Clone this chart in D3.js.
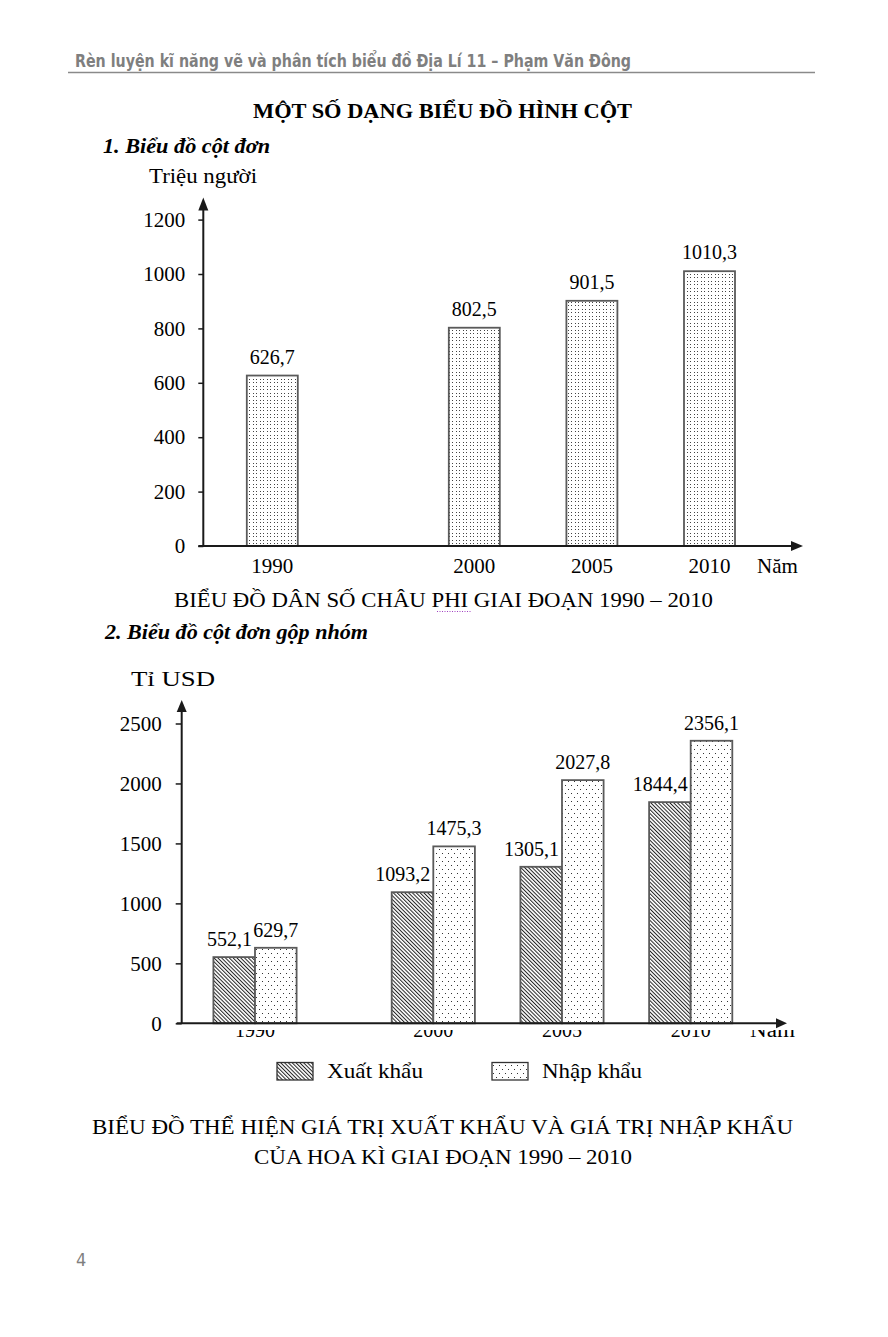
<!DOCTYPE html>
<html>
<head>
<meta charset="utf-8">
<script src="https://cdn.jsdelivr.net/npm/d3@7"></script>
<style>
  html, body { margin: 0; padding: 0; background: #fff; }
  svg { display: block; }
  .serif { font-family: "Liberation Serif", "Times New Roman", serif; fill: #000; }
</style>
</head>
<body>
<script>
// ---------- Data ----------
const years1 = [1990, 2000, 2005, 2010];
const population = [626.7, 802.5, 901.5, 1010.3];
const yTicks1 = [0, 200, 400, 600, 800, 1000, 1200];

const years2 = [1990, 2000, 2005, 2010];
const exportValues = [552.1, 1093.2, 1305.1, 1844.4];
const importValues = [629.7, 1475.3, 2027.8, 2356.1];
const yTicks2 = [0, 500, 1000, 1500, 2000, 2500];
const seriesNames = ["Xuất khẩu", "Nhập khẩu"];

const headerText = "Rèn luyện kĩ năng vẽ và phân tích biểu đồ Địa Lí 11 – Phạm Văn Đông";
const pageTitle = "MỘT SỐ DẠNG BIỂU ĐỒ HÌNH CỘT";
const section1 = "1. Biểu đồ cột đơn";
const section2 = "2. Biểu đồ cột đơn gộp nhóm";
const unit1 = "Triệu người";
const unit2 = "Tỉ USD";
const xUnit = "Năm";
const caption1 = "BIỂU ĐỒ DÂN SỐ CHÂU PHI GIAI ĐOẠN 1990 – 2010";
const caption2a = "BIỂU ĐỒ THỂ HIỆN GIÁ TRỊ XUẤT KHẨU VÀ GIÁ TRỊ NHẬP KHẨU";
const caption2b = "CỦA HOA KÌ GIAI ĐOẠN 1990 – 2010";
const pageNumber = "4";

// ---------- Setup ----------
const fmt = d3.formatLocale({decimal: ",", thousands: ".", grouping: [3], currency: ["", ""]}).format(".1f");
const W = 888, H = 1337;
const svg = d3.select("body").append("svg").attr("width", W).attr("height", H);
svg.append("rect").attr("width", W).attr("height", H).attr("fill", "#fff");

const defs = svg.append("defs");
// dense dots (chart 1)
const pd1 = defs.append("pattern").attr("id", "dots1").attr("patternUnits", "userSpaceOnUse")
  .attr("width", 7).attr("height", 7);
pd1.append("rect").attr("width", 7).attr("height", 7).attr("fill", "#fff");
[[1,1],[4,1],[1,4],[4,4]].forEach(([x,y]) => pd1.append("rect").attr("x", x).attr("y", y).attr("width", 1).attr("height", 1).attr("fill", "#444"));
// sparser dots (chart 2)
const pd2 = defs.append("pattern").attr("id", "dots2").attr("patternUnits", "userSpaceOnUse")
  .attr("width", 6).attr("height", 8);
pd2.append("rect").attr("width", 6).attr("height", 8).attr("fill", "#fff");
[[1,1],[4,5]].forEach(([x,y]) => pd2.append("rect").attr("x", x).attr("y", y).attr("width", 1).attr("height", 1).attr("fill", "#333"));
// diagonal hatch "\\\"
const ph = defs.append("pattern").attr("id", "hatch").attr("patternUnits", "userSpaceOnUse")
  .attr("width", 2.7).attr("height", 10).attr("patternTransform", "rotate(-45)");
ph.append("rect").attr("width", 2.7).attr("height", 10).attr("fill", "#fff");
ph.append("rect").attr("x", 0).attr("width", 1).attr("height", 10).attr("fill", "#222");

const clip = defs.append("clipPath").attr("id", "xlabClip");
clip.append("rect").attr("x", 0).attr("y", 1030).attr("width", W).attr("height", 30);

// ---------- Header ----------
svg.append("text").attr("x", 75).attr("y", 67)
  .attr("font-family", "'Liberation Sans Narrow', 'DejaVu Sans Condensed', 'Roboto Condensed', sans-serif")
  .attr("font-weight", "bold").attr("font-size", 17).attr("fill", "#7f7f7f")
  .attr("textLength", 556).attr("lengthAdjust", "spacingAndGlyphs")
  .text(headerText);
svg.append("line").attr("x1", 68).attr("x2", 815).attr("y1", 72.5).attr("y2", 72.5)
  .attr("stroke", "#8a8a8a").attr("stroke-width", 1.5);

svg.append("text").attr("class", "serif").attr("x", 253).attr("y", 118)
  .attr("font-size", 21).attr("font-weight", "bold")
  .attr("textLength", 379).attr("lengthAdjust", "spacingAndGlyphs").text(pageTitle);

svg.append("text").attr("class", "serif").attr("x", 103).attr("y", 153)
  .attr("font-size", 20).attr("font-weight", "bold").attr("font-style", "italic")
  .attr("textLength", 167).attr("lengthAdjust", "spacingAndGlyphs").text(section1);

svg.append("text").attr("class", "serif").attr("x", 149).attr("y", 183)
  .attr("font-size", 21).attr("textLength", 108).attr("lengthAdjust", "spacingAndGlyphs").text(unit1);

// ---------- Chart 1 ----------
const axisColor = "#1a1a1a";
const barStroke = "#5a5a5a";
const y1 = d3.scaleLinear().domain([0, 1200]).range([546, 219.6]);
const x1 = d3.scaleLinear().domain([1990, 2000, 2010]).range([272.3, 474.3, 709.5]);
const bw1 = 51;
const ax1X = 203.3;

const g1 = svg.append("g");
g1.selectAll("rect.bar").data(years1).join("rect").attr("class", "bar")
  .attr("x", d => x1(d) - bw1 / 2).attr("width", bw1)
  .attr("y", (d, i) => y1(population[i])).attr("height", (d, i) => y1(0) - y1(population[i]))
  .attr("fill", "url(#dots1)").attr("stroke", barStroke).attr("stroke-width", 1.8);

g1.selectAll("text.val").data(years1).join("text").attr("class", "serif val")
  .attr("x", d => x1(d)).attr("y", (d, i) => y1(population[i]) - 12)
  .attr("text-anchor", "middle").attr("font-size", 20)
  .text((d, i) => fmt(population[i]));

const yAxis1 = g1.append("g").attr("transform", `translate(${ax1X},0)`)
  .call(d3.axisLeft(y1).tickValues(yTicks1).tickSize(5).tickPadding(13).tickFormat(d3.format("d")));
yAxis1.select(".domain").remove();
yAxis1.selectAll(".tick line").attr("stroke", axisColor).attr("stroke-width", 1.5);
yAxis1.selectAll(".tick text").attr("class", "serif").attr("font-size", 21).attr("fill", "#000");

// axes lines with arrows
const top1 = y1(1200) - 22;
g1.append("line").attr("x1", ax1X).attr("x2", ax1X).attr("y1", y1(0)).attr("y2", top1 + 8)
  .attr("stroke", axisColor).attr("stroke-width", 2);
g1.append("path").attr("d", `M${ax1X},${top1} L${ax1X - 5},${top1 + 13} L${ax1X + 5},${top1 + 13} Z`).attr("fill", axisColor);
const right1 = 803;
g1.append("line").attr("x1", ax1X - 5).attr("x2", right1 - 8).attr("y1", y1(0)).attr("y2", y1(0))
  .attr("stroke", axisColor).attr("stroke-width", 2);
g1.append("path").attr("d", `M${right1},${y1(0)} L${right1 - 12},${y1(0) - 5} L${right1 - 12},${y1(0) + 5} Z`).attr("fill", axisColor);

g1.selectAll("text.year").data(years1).join("text").attr("class", "serif year")
  .attr("x", d => x1(d)).attr("y", 573).attr("text-anchor", "middle").attr("font-size", 21)
  .text(d => d);
g1.append("text").attr("class", "serif").attr("x", 757).attr("y", 573).attr("font-size", 21).text(xUnit);

svg.append("text").attr("class", "serif").attr("x", 174).attr("y", 607)
  .attr("font-size", 21).attr("textLength", 539).attr("lengthAdjust", "spacingAndGlyphs").text(caption1);
svg.append("line").attr("x1", 437).attr("x2", 471).attr("y1", 611.5).attr("y2", 611.5)
  .attr("stroke", "#a040c0").attr("stroke-width", 1).attr("stroke-dasharray", "1,1.5");

svg.append("text").attr("class", "serif").attr("x", 105).attr("y", 639)
  .attr("font-size", 20).attr("font-weight", "bold").attr("font-style", "italic")
  .attr("textLength", 263).attr("lengthAdjust", "spacingAndGlyphs").text(section2);

svg.append("text").attr("class", "serif").attr("x", 131).attr("y", 686)
  .attr("font-size", 21).attr("textLength", 84).attr("lengthAdjust", "spacingAndGlyphs").text(unit2);

// ---------- Chart 2 ----------
const y2 = d3.scaleLinear().domain([0, 2500]).range([1023.3, 723.5]);
const x2 = d3.scaleLinear().domain([1990, 2000, 2010]).range([255, 433.3, 690.7]);
const bw2 = 41.6;
const ax2X = 181.7;
const g2 = svg.append("g");

g2.selectAll("rect.exp").data(years2).join("rect").attr("class", "exp")
  .attr("x", d => x2(d) - bw2).attr("width", bw2)
  .attr("y", (d, i) => y2(exportValues[i])).attr("height", (d, i) => y2(0) - y2(exportValues[i]))
  .attr("fill", "url(#hatch)").attr("stroke", barStroke).attr("stroke-width", 1.8);
g2.selectAll("rect.imp").data(years2).join("rect").attr("class", "imp")
  .attr("x", d => x2(d)).attr("width", bw2)
  .attr("y", (d, i) => y2(importValues[i])).attr("height", (d, i) => y2(0) - y2(importValues[i]))
  .attr("fill", "url(#dots2)").attr("stroke", barStroke).attr("stroke-width", 1.8);

g2.selectAll("text.vexp").data(years2).join("text").attr("class", "serif vexp")
  .attr("x", d => x2(d) - 3).attr("y", (d, i) => y2(exportValues[i]) - 11)
  .attr("text-anchor", "end").attr("font-size", 20)
  .text((d, i) => fmt(exportValues[i]));
g2.selectAll("text.vimp").data(years2).join("text").attr("class", "serif vimp")
  .attr("x", d => x2(d) + bw2 / 2).attr("y", (d, i) => y2(importValues[i]) - 11)
  .attr("text-anchor", "middle").attr("font-size", 20)
  .text((d, i) => fmt(importValues[i]));

const yAxis2 = g2.append("g").attr("transform", `translate(${ax2X},0)`)
  .call(d3.axisLeft(y2).tickValues(yTicks2).tickSize(6).tickPadding(14).tickFormat(d3.format("d")));
yAxis2.select(".domain").remove();
yAxis2.selectAll(".tick line").attr("stroke", axisColor).attr("stroke-width", 1.5);
yAxis2.selectAll(".tick text").attr("class", "serif").attr("font-size", 21).attr("fill", "#000");

const top2 = 700;
g2.append("line").attr("x1", ax2X).attr("x2", ax2X).attr("y1", y2(0)).attr("y2", top2 + 8)
  .attr("stroke", axisColor).attr("stroke-width", 2);
g2.append("path").attr("d", `M${ax2X},${top2} L${ax2X - 5},${top2 + 12} L${ax2X + 5},${top2 + 12} Z`).attr("fill", axisColor);
const right2 = 787;
g2.append("line").attr("x1", ax2X - 5).attr("x2", right2 - 8).attr("y1", y2(0)).attr("y2", y2(0))
  .attr("stroke", axisColor).attr("stroke-width", 2);
g2.append("path").attr("d", `M${right2},${y2(0)} L${right2 - 11},${y2(0) - 5} L${right2 - 11},${y2(0) + 5} Z`).attr("fill", axisColor);

// year labels partially hidden (only the lower part shows, as in the source)
const xl2 = g2.append("g").attr("clip-path", "url(#xlabClip)");
xl2.selectAll("text").data(years2).join("text").attr("class", "serif")
  .attr("x", d => x2(d)).attr("y", 1037).attr("text-anchor", "middle").attr("font-size", 20)
  .text(d => d);
xl2.append("text").attr("class", "serif").attr("x", 750).attr("y", 1037).attr("font-size", 20)
  .attr("textLength", 45).attr("lengthAdjust", "spacingAndGlyphs").text(xUnit);

// legend
const legend = svg.append("g");
const legX = [277, 492];
const legFill = ["url(#hatch)", "url(#dots2)"];
const legTextLen = [96, 100];
legend.selectAll("rect").data(seriesNames).join("rect")
  .attr("x", (d, i) => legX[i]).attr("y", 1062.5).attr("width", 36).attr("height", 17.5)
  .attr("fill", (d, i) => legFill[i]).attr("stroke", "#333").attr("stroke-width", 1.3);
legend.selectAll("text").data(seriesNames).join("text").attr("class", "serif")
  .attr("x", (d, i) => legX[i] + 50).attr("y", 1078).attr("font-size", 22)
  .attr("textLength", (d, i) => legTextLen[i]).attr("lengthAdjust", "spacingAndGlyphs")
  .text(d => d);

svg.append("text").attr("class", "serif").attr("x", 92).attr("y", 1134)
  .attr("font-size", 21).attr("textLength", 701).attr("lengthAdjust", "spacingAndGlyphs").text(caption2a);
svg.append("text").attr("class", "serif").attr("x", 254).attr("y", 1164)
  .attr("font-size", 21).attr("textLength", 378).attr("lengthAdjust", "spacingAndGlyphs").text(caption2b);

svg.append("text").attr("x", 76).attr("y", 1266)
  .attr("font-family", "'Liberation Sans Narrow', 'DejaVu Sans Condensed', sans-serif")
  .attr("font-size", 18).attr("fill", "#7f7f7f").text(pageNumber);
</script>
</body>
</html>
